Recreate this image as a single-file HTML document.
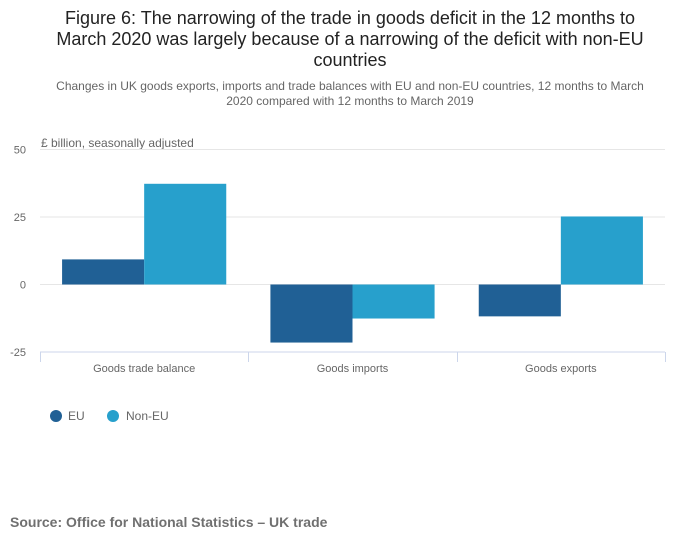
<!DOCTYPE html>
<html><head><meta charset="utf-8"><style>
body{margin:0;background:#fff;font-family:"Liberation Sans",sans-serif;}
svg text{font-family:"Liberation Sans",sans-serif;}
</style></head><body>
<svg width="700" height="549" xmlns="http://www.w3.org/2000/svg">
<text x="350" y="24" text-anchor="middle" font-size="18" fill="#222">Figure 6: The narrowing of the trade in goods deficit in the 12 months to</text>
<text x="350" y="45" text-anchor="middle" font-size="18" fill="#222">March 2020 was largely because of a narrowing of the deficit with non-EU</text>
<text x="350" y="66" text-anchor="middle" font-size="18" fill="#222">countries</text>
<text x="350" y="90" text-anchor="middle" font-size="12" fill="#666">Changes in UK goods exports, imports and trade balances with EU and non-EU countries, 12 months to March</text>
<text x="350" y="105" text-anchor="middle" font-size="12" fill="#666">2020 compared with 12 months to March 2019</text>
<text x="41" y="147" font-size="12" fill="#666">£ billion, seasonally adjusted</text>
<g id="grid"></g><g id="bars"></g><g id="axis"></g>
<g>
<circle cx="56" cy="416" r="6" fill="#206095"/>
<text x="68" y="420" font-size="12" fill="#666">EU</text>
<circle cx="113" cy="416" r="6" fill="#27a0cc"/>
<text x="126" y="420" font-size="12" fill="#666">Non-EU</text>
</g>
<text x="10" y="527" font-size="14" font-weight="bold" fill="#707070">Source: Office for National Statistics – UK trade</text>
</svg>
<script>
const categories=["Goods trade balance","Goods imports","Goods exports"];
const euValues=[9.3,-21.5,-11.8];
const nonEuValues=[37.3,-12.6,25.2];
const yTicks=[50,25,0,-25];
const NS="http://www.w3.org/2000/svg";
const x0=40,x1=665,yTop=149.5,yBot=352,vMax=50,vMin=-25;
const y=v=>yTop+(vMax-v)*(yBot-yTop)/(vMax-vMin);
const bw=(x1-x0)/categories.length;
function mk(t,a,p){const e=document.createElementNS(NS,t);for(const k in a)e.setAttribute(k,a[k]);p.appendChild(e);return e;}
const grid=document.getElementById('grid'),bars=document.getElementById('bars'),axis=document.getElementById('axis');
yTicks.forEach(v=>{
 if(v!==vMin){const l=mk('line',{x1:x0,x2:x1,y1:y(v),y2:y(v),stroke:'#e6e6e6'},grid);
 
 }
 const t=mk('text',{x:26,y:y(v)+4,'text-anchor':'end','font-size':11,fill:'#666'},grid);
 
 
 t.textContent=v;
});
const al=mk('line',{x1:x0,x2:x1,y1:yBot,y2:yBot,stroke:'#ccd6eb'},axis);


for(let i=0;i<=categories.length;i++){const tx=Math.round(x0+i*bw)+0.5;
 const tk=mk('line',{x1:tx,x2:tx,y1:yBot,y2:yBot+10,stroke:'#ccd6eb'},axis);
 
 }
const pad=bw*0.106,barW=(bw-2*pad)/2;
categories.forEach((c,i)=>{
 const gx=x0+i*bw+pad;
 [[euValues[i],'#206095','eu'],[nonEuValues[i],'#27a0cc','noneu']].forEach((s,j)=>{
  const v=s[0];const r=mk('rect',{x:gx+j*barW,y:Math.min(y(v),y(0)),width:barW,height:Math.abs(y(v)-y(0)),fill:s[1]},bars);
  
  
 });
 const t=mk('text',{x:x0+(i+0.5)*bw,y:372,'text-anchor':'middle','font-size':11,fill:'#666'},axis);
 
 
 t.textContent=c;
});
</script>
</body></html>
